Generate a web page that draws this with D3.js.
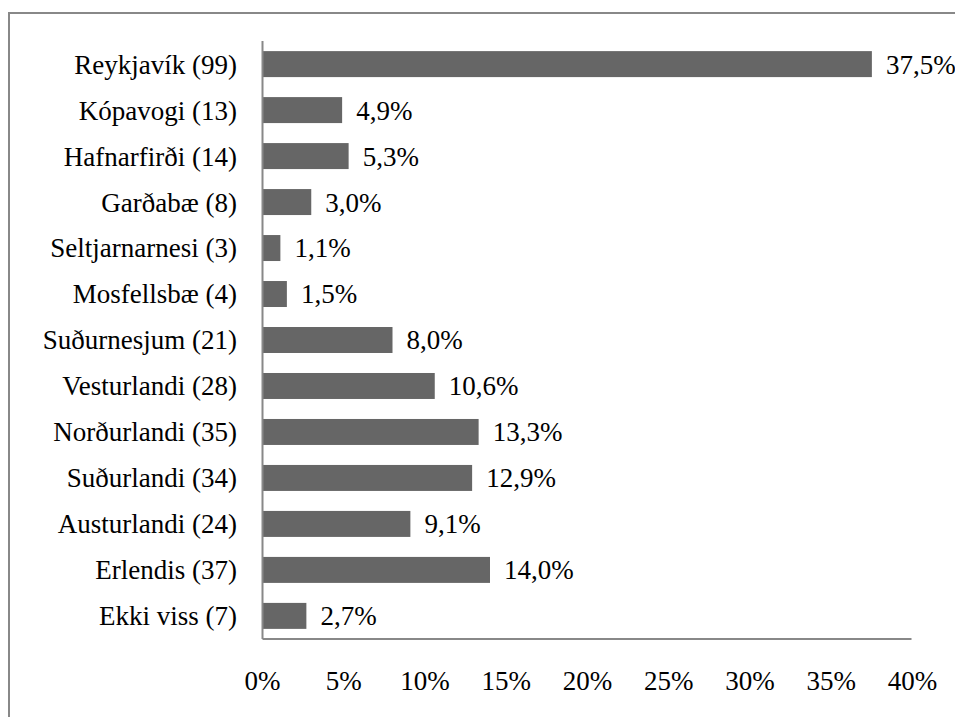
<!DOCTYPE html>
<html>
<head>
<meta charset="utf-8">
<script src="https://cdn.jsdelivr.net/npm/d3@7"></script>
<style>
  body { margin: 0; background: #fff; }
  svg { display: block; }
</style>
</head>
<body>
<svg id="chart" width="955" height="717"></svg>
<script>
// categories and values
const categories = ['Reykjavík (99)', 'Kópavogi (13)', 'Hafnarfirði (14)', 'Garðabæ (8)',
  'Seltjarnarnesi (3)', 'Mosfellsbæ (4)', 'Suðurnesjum (21)', 'Vesturlandi (28)',
  'Norðurlandi (35)', 'Suðurlandi (34)', 'Austurlandi (24)', 'Erlendis (37)', 'Ekki viss (7)']
const values = [37.5, 4.9, 5.3, 3.0, 1.1, 1.5, 8.0, 10.6, 13.3, 12.9, 9.1, 14.0, 2.7]
const ticks = [0, 5, 10, 15, 20, 25, 30, 35, 40]

const font = "'Liberation Serif', Tinos, 'Nimbus Roman', 'Times New Roman', Times, 'DejaVu Serif', serif"
const svg = d3.select('#chart')
  .attr('font-family', font)
  .attr('font-size', 27)

// outer frame (runs off the right and bottom edges)
svg.append('rect')
  .attr('x', 9).attr('y', 13)
  .attr('width', 1000).attr('height', 800)
  .attr('fill', 'none').attr('stroke', '#888').attr('stroke-width', 2)

const x = d3.scaleLinear().domain([0, 40]).range([262.5, 912.5])
const y = d3.scaleBand().domain(categories).range([41, 639]).paddingInner(0.435).paddingOuter(0.22)

// bars
svg.append('g').selectAll('rect')
  .data(values)
  .join('rect')
  .attr('x', x(0))
  .attr('y', (d, i) => y(categories[i]))
  .attr('width', d => x(d) - x(0))
  .attr('height', y.bandwidth())
  .attr('fill', '#666')

// value labels
svg.append('g').selectAll('text')
  .data(values)
  .join('text')
  .attr('x', d => x(d) + 14)
  .attr('y', (d, i) => y(categories[i]) + y.bandwidth() / 2)
  .attr('dy', '0.35em')
  .text(d => d.toFixed(1).replace('.', ',') + '%')

// category labels
svg.append('g').selectAll('text')
  .data(categories)
  .join('text')
  .attr('x', 237)
  .attr('y', d => y(d) + y.bandwidth() / 2)
  .attr('dy', '0.35em')
  .attr('text-anchor', 'end')
  .text(d => d)

// axis lines
svg.append('line')
  .attr('x1', 262.5).attr('x2', 262.5).attr('y1', 41).attr('y2', 639)
  .attr('stroke', '#888').attr('stroke-width', 2)
svg.append('line')
  .attr('x1', 262.5).attr('x2', x(40) - 1).attr('y1', 639).attr('y2', 639)
  .attr('stroke', '#888').attr('stroke-width', 2)

// tick labels
svg.append('g').selectAll('text')
  .data(ticks)
  .join('text')
  .attr('x', d => x(d))
  .attr('y', 690)
  .attr('text-anchor', 'middle')
  .text(d => d + '%')
</script>
</body>
</html>
